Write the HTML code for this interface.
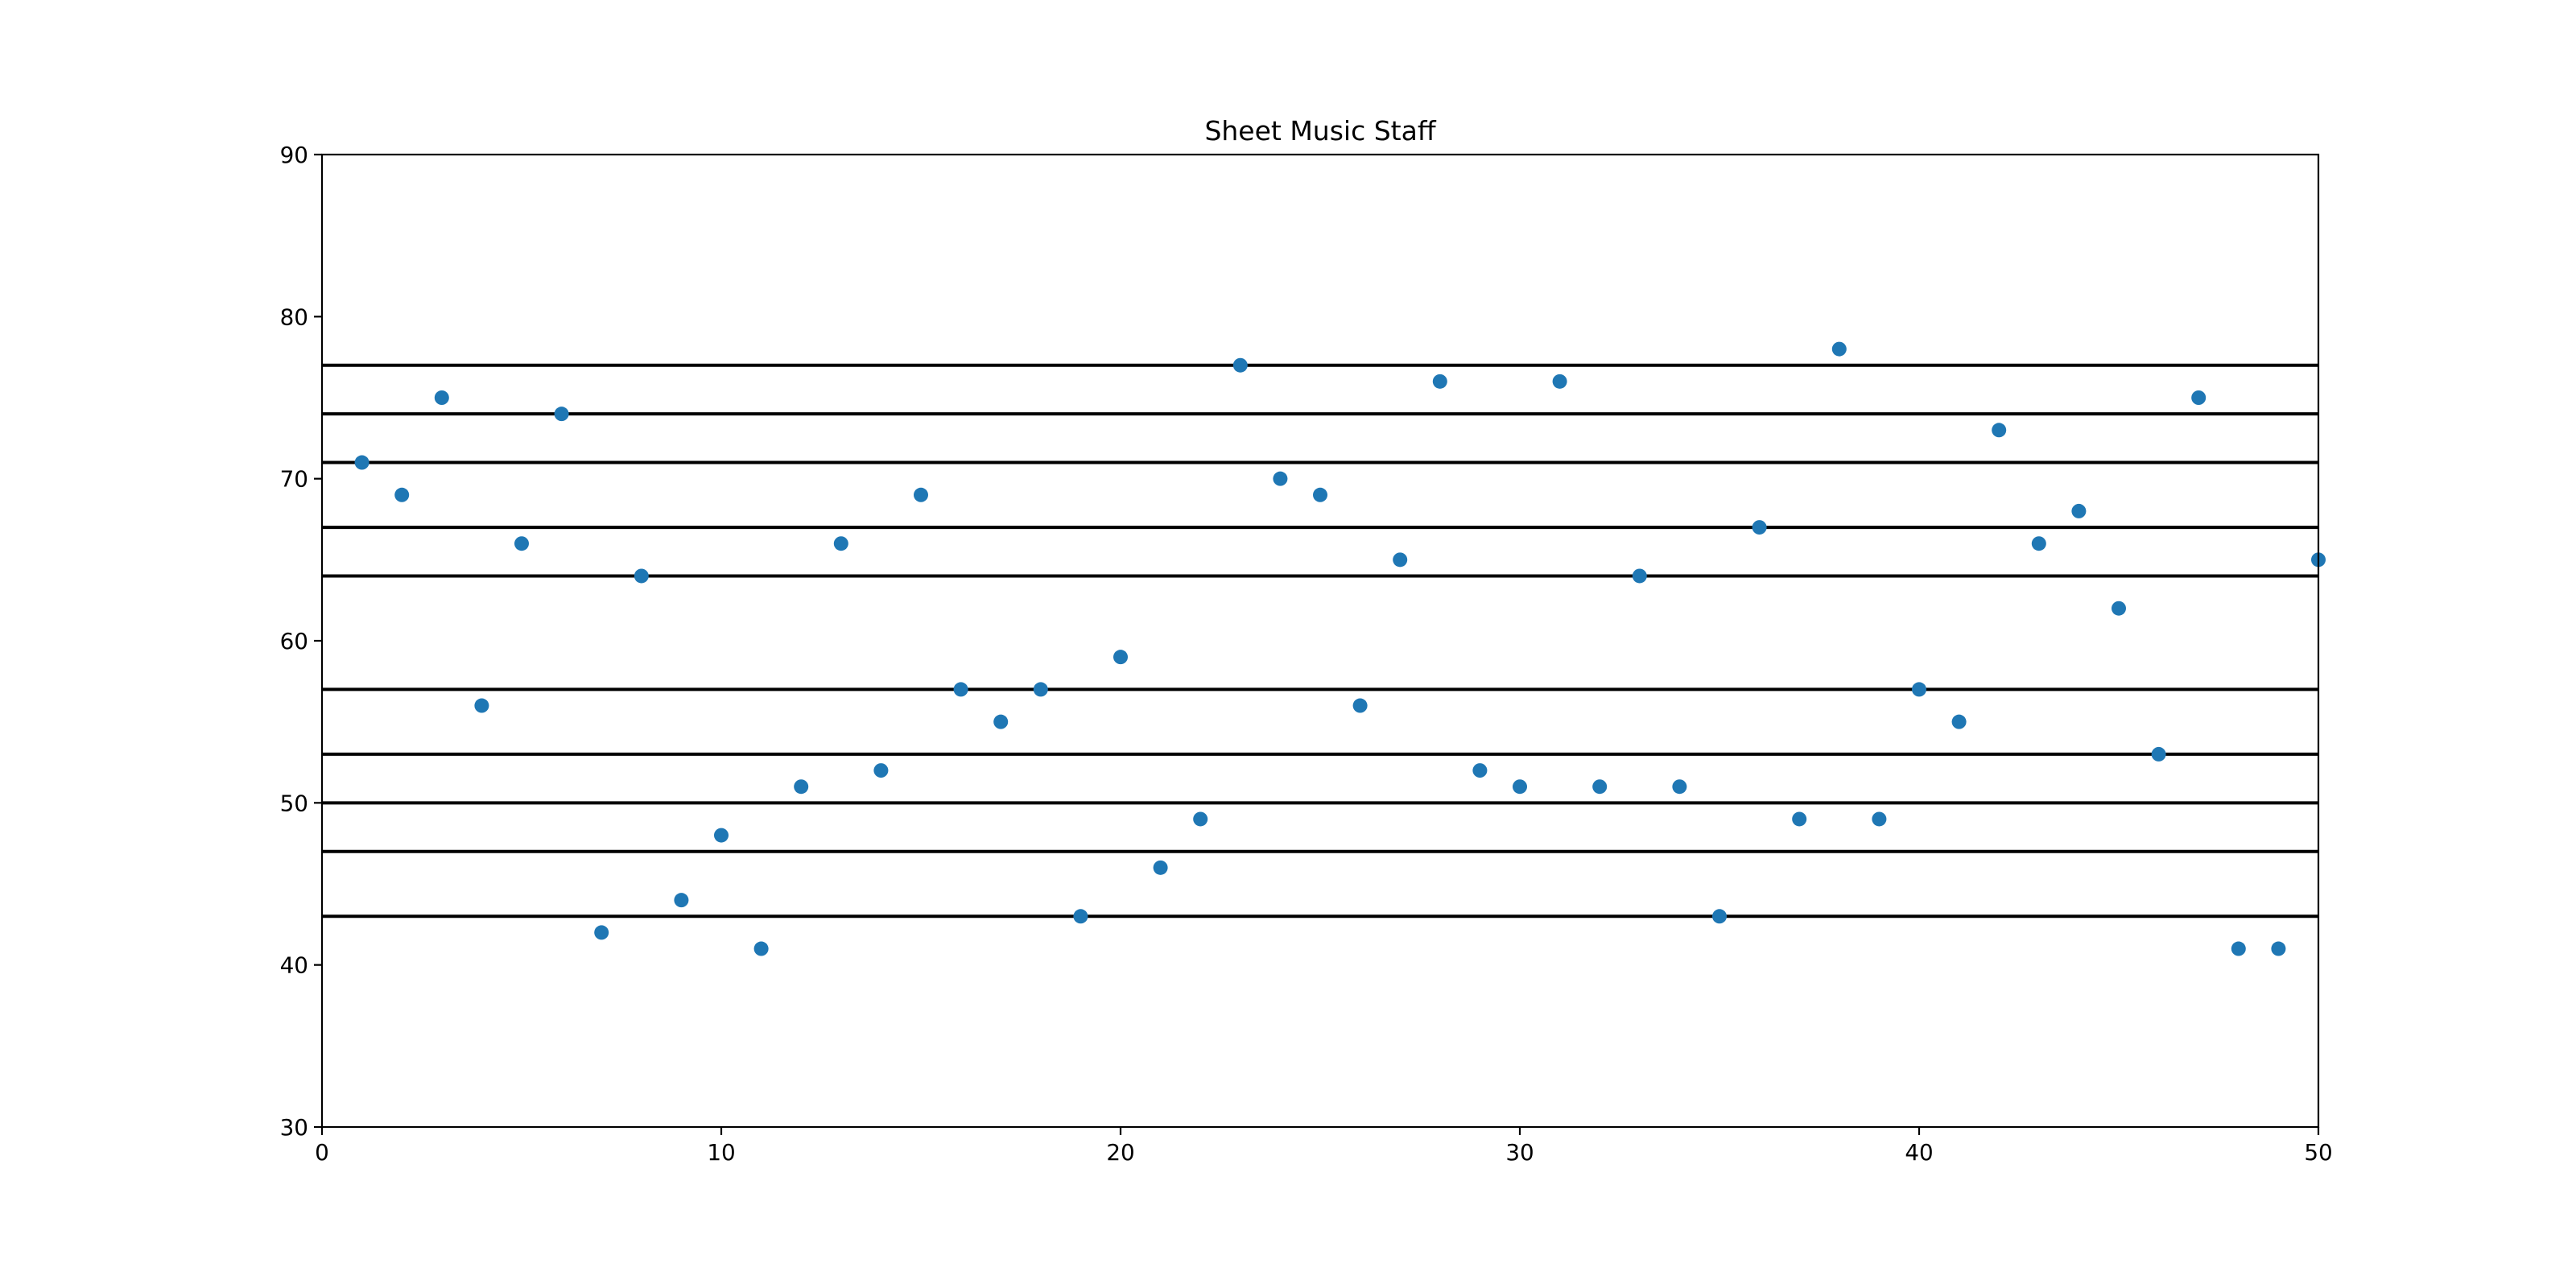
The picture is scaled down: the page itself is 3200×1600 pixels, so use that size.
<!DOCTYPE html>
<html><head><meta charset="utf-8"><style>
html,body{margin:0;padding:0;background:#fff;}
svg{display:block;font-family:"DejaVu Sans","Liberation Sans",sans-serif;}
</style></head><body>
<svg id="chart" width="3200" height="1600" viewBox="0 0 3200 1600">
<rect width="3200" height="1600" fill="#fff"/>
<text x="1640" y="174" font-size="33" text-anchor="middle" fill="#000">Sheet Music Staff</text>
<g id="lines"></g><g id="pts"></g><g id="axes"></g>
</svg>
<script>
const xValues = [1,2,3,4,5,6,7,8,9,10,11,12,13,14,15,16,17,18,19,20,21,22,23,24,25,26,27,28,29,30,31,32,33,34,35,36,37,38,39,40,41,42,43,44,45,46,47,48,49,50];
const yValues = [71,69,75,56,66,74,42,64,44,48,41,51,66,52,69,57,55,57,43,59,46,49,77,70,69,56,65,76,52,51,76,51,64,51,43,67,49,78,49,57,55,73,66,68,62,53,75,41,41,65];
const staffLines = [43,47,50,53,57,64,67,71,74,77];
const xTicks = [0,10,20,30,40,50];
const yTicks = [30,40,50,60,70,80,90];
const L=400,R=2880,T=192,B=1400;
const sx=v=>L+(v-0)/(50-0)*(R-L);
const sy=v=>B-(v-30)/(90-30)*(B-T);
const NS="http://www.w3.org/2000/svg";
function mk(tag,attrs,parent){const e=document.createElementNS(NS,tag);for(const k in attrs)e.setAttribute(k,attrs[k]);parent.appendChild(e);return e;}
const gl=document.getElementById('lines'),gp=document.getElementById('pts'),ga=document.getElementById('axes');
staffLines.forEach(v=>{
 const l=mk('line',{x1:L,x2:R,y1:sy(v),y2:sy(v),stroke:'#000','stroke-width':4},gl);
 
 
});
xValues.forEach((x,i)=>{
 const c=mk('circle',{cx:sx(x),cy:sy(yValues[i]),r:9,fill:'#1f77b4'},gp);
 
 
});
const frame=mk('rect',{x:L,y:T,width:R-L,height:B-T,fill:'none',stroke:'#000','stroke-width':2.2},ga);


xTicks.forEach(v=>{
 mk('line',{x1:sx(v),x2:sx(v),y1:B,y2:B+10,stroke:'#000','stroke-width':2.2},ga);
 const t=mk('text',{x:sx(v),y:B+41,'font-size':27.8,'text-anchor':'middle',fill:'#000'},ga);
 t.textContent=v;
 
 
});
yTicks.forEach(v=>{
 mk('line',{x1:L-10,x2:L,y1:sy(v),y2:sy(v),stroke:'#000','stroke-width':2.2},ga);
 const t=mk('text',{x:L-17,y:sy(v)+10,'font-size':27.8,'text-anchor':'end',fill:'#000'},ga);
 t.textContent=v;
 
 
});
</script>
</body></html>
